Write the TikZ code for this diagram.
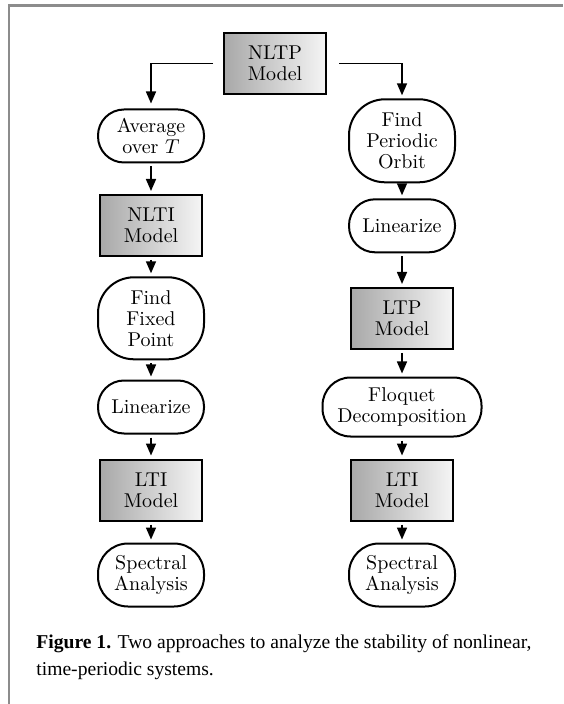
\documentclass[tikz,border=0pt]{standalone}
\usepackage{amsmath}
\usepackage{fontspec}
\usepackage{tikz}
\usepackage{xcolor}
\usetikzlibrary{positioning,arrows.meta}
\newfontfamily\capfont{Liberation Serif}

\begin{document}
\begin{tikzpicture}[x=0.5pt,y=-0.5pt]
\useasboundingbox (0,0) rectangle (563,704);
\tikzstyle{model}=[draw,line width=1pt,align=center,inner sep=2pt,
  font=\fontsize{10}{10.5}\selectfont,minimum width=51pt,minimum height=30.5pt,
  left color=black!34,right color=black!4]
\tikzstyle{task}=[draw,line width=1pt,rounded corners=13pt,align=center,inner sep=2pt,
  font=\fontsize{10}{10.5}\selectfont,minimum width=53pt,minimum height=26.5pt]
\tikzstyle{flow}=[line width=0.8pt,-{Triangle[length=6pt,width=5pt]},
  shorten <=1.5pt,shorten >=1.5pt]

% frame
\draw[black!45,line width=1.2pt] (9,704) -- (9,5.7) -- (563,5.7);

\draw node[model] (t0) at (275,63.5) {NLTP\\Model};

% left column
\draw node[task] (l1) at (151,136) {Average\\over $T$};
\draw node[model] (l2) at (151,225.5) {NLTI\\Model};
\draw node[task,minimum height=41pt,rounded corners=18pt] (l3) at (151,318.3) {Find\\Fixed\\Point};
\draw node[task] (l4) at (151,407) {Linearize};
\draw node[model] (l5) at (151,490) {LTI\\Model};
\draw node[task,minimum height=31.5pt,rounded corners=15pt] (l6) at (151,575) {Spectral\\Analysis};

% right column
\draw node[task,minimum height=41.5pt,rounded corners=18pt] (r1) at (402,140.8) {Find\\Periodic\\Orbit};
\draw node[task] (r2) at (402,225.8) {Linearize};
\draw node[model] (r3) at (402,318.5) {LTP\\Model};
\draw node[task,minimum width=79.5pt,minimum height=29.5pt,rounded corners=14pt] (r4) at (402,407) {Floquet\\Decomposition};
\draw node[model] (r5) at (402,490) {LTI\\Model};
\draw node[task,minimum height=31.5pt,rounded corners=15pt] (r6) at (402,575) {Spectral\\Analysis};

\draw[flow,shorten <=5pt,shorten >=2.5pt] (t0.west) -| (l1.north);
\draw[flow,shorten <=6pt,shorten >=1.5pt] (t0.east) -| (r1.north);
\foreach \i [count=\j from 2] in {1,...,5} {
  \draw[flow] (l\i) -- (l\j);
  \draw[flow] (r\i) -- (r\j);
}

\node[anchor=north west,inner sep=0pt,align=left,
  font=\capfont\fontsize{9.8}{13.5}\selectfont] (cap) at (36,634)
  {\textbf{Figure 1.} Two approaches to analyze the stability of nonlinear,\\
   time-periodic systems.};
\end{tikzpicture}
\end{document}
